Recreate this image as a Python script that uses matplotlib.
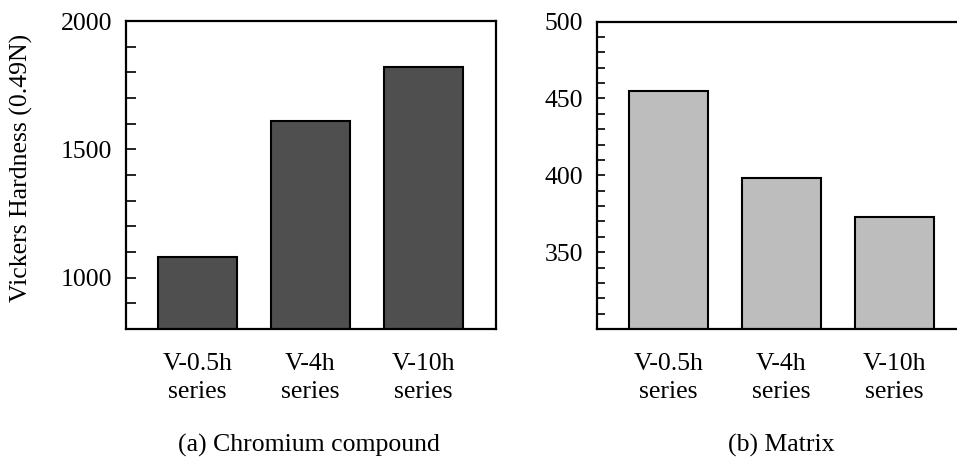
import matplotlib
matplotlib.use("Agg")
import matplotlib.pyplot as plt
from matplotlib.ticker import MultipleLocator

plt.rcParams["font.family"] = ["Liberation Serif", "DejaVu Serif"]

categories = ["V-0.5h\nseries", "V-4h\nseries", "V-10h\nseries"]
compound_hv = [1080, 1610, 1820]
matrix_hv = [455, 398, 373]

W, H = 957, 459
fig = plt.figure(figsize=(W / 100, H / 100), dpi=100)

def px_axes(x0, x1, y0, y1):
    return fig.add_axes([x0 / W, 1 - y1 / H, (x1 - x0) / W, (y1 - y0) / H])

ax1 = px_axes(126, 496, 21, 329)
ax2 = px_axes(597, 967, 21.5, 329)

FS = 18.5
x = range(len(categories))

def style(ax, values, color, ylim, major, minor, ticklen):
    ax.bar(x, values, width=0.70, color=color, edgecolor="black", linewidth=1.5, zorder=2)
    ax.set_xlim(-0.63, 2.64)
    ax.set_ylim(*ylim)
    ax.set_xticks(list(x))
    ax.set_xticklabels(categories, fontsize=FS, linespacing=1.38)
    ax.yaxis.set_major_locator(MultipleLocator(major))
    ax.yaxis.set_minor_locator(MultipleLocator(minor))
    ax.tick_params(axis="x", length=0, pad=17)
    ax.tick_params(axis="y", which="both", direction="in", length=ticklen, width=1.2,
                   labelsize=FS, pad=10)
    for s in ax.spines.values():
        s.set_linewidth(1.6)

style(ax1, compound_hv, "#4f4f4f", (800, 2000), 500, 100, 7.5)
style(ax2, matrix_hv, "#bdbdbd", (300, 500), 50, 10, 6)
ax1.set_yticks([1000, 1500, 2000])
ax2.set_yticks([350, 400, 450, 500])

fig.text(21 / W, 1 - 168 / H, "Vickers Hardness (0.49N)", rotation=90,
         ha="center", va="center", fontsize=FS)
fig.text(309 / W, 7 / H, "(a) Chromium compound", ha="center", va="baseline", fontsize=FS)
fig.text(781.5 / W, 7 / H, "(b) Matrix", ha="center", va="baseline", fontsize=FS)

fig.savefig("out.png", dpi=100)
